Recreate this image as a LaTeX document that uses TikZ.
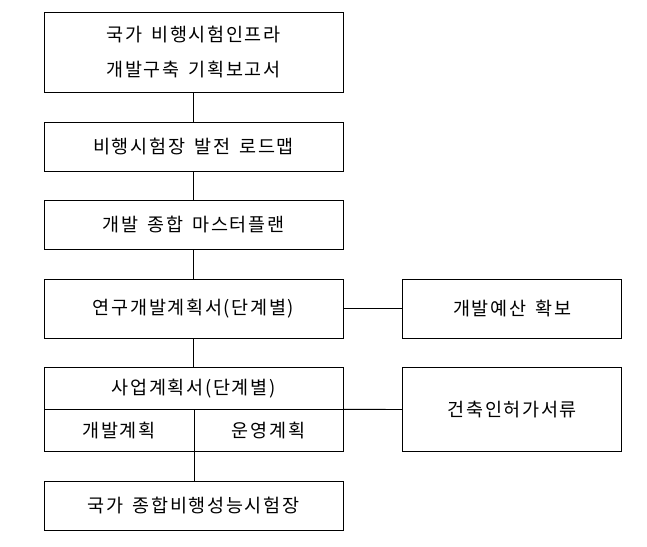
\documentclass[tikz,border=0pt]{standalone}
\usepackage{fontspec}
\setmainfont{Noto Sans CJK KR}[LetterSpace=9,WordSpace=1.6]
\begin{document}
\begin{tikzpicture}[x=1pt,y=-1pt,
  box/.style={draw,line width=0.9pt,rectangle,inner sep=0pt,outer sep=0pt,
    minimum width=299pt,font=\fontsize{18.5}{35}\selectfont,align=center},
  rbox/.style={box,minimum width=219pt},
  half/.style={box,minimum height=42pt},
  conn/.style={line width=0.9pt}]
\useasboundingbox (0,0) rectangle (647,546);
\node[box,minimum height=80pt] (b1) at (193.5,52.5) {국가 비행시험인프라\\개발구축 기획보고서};
\node[box,minimum height=48.6pt] (b2) at (193.5,147) {비행시험장 발전 로드맵};
\node[box,minimum height=48.3pt] (b3) at (193.5,225) {개발 종합 마스터플랜};
\node[box,minimum height=59pt] (b4) at (193.5,308.8) {연구개발계획서(단계별)};
\node[box,minimum height=41.6pt] (b5) at (193.5,388.5) {사업계획서(단계별)};
\node[half,minimum width=150pt] (b5l) at (119,430.3) {개발계획};
\node[half,minimum width=149pt] (b5r) at (268.5,430.3) {운영계획};
\node[box,minimum height=49pt] (b6) at (193.5,505.5) {국가 종합비행성능시험장};
\node[rbox,minimum height=59pt] (r1) at (512.2,308.8) {개발예산 확보};
\node[rbox,minimum height=83.6pt] (r2) at (512.2,409.5) {건축인허가서류};
\draw[conn] (b1) -- (b2);
\draw[conn] (b2) -- (b3);
\draw[conn] (b3) -- (b4);
\draw[conn] (b4) -- (b5);
\draw[conn] (b5l.south east) -- (b5l.south east |- b6.north);
\draw[conn] (b4.east) -- (r1.west);
\draw[conn] (b5.south east) -- (r2.west);
\end{tikzpicture}
\end{document}
